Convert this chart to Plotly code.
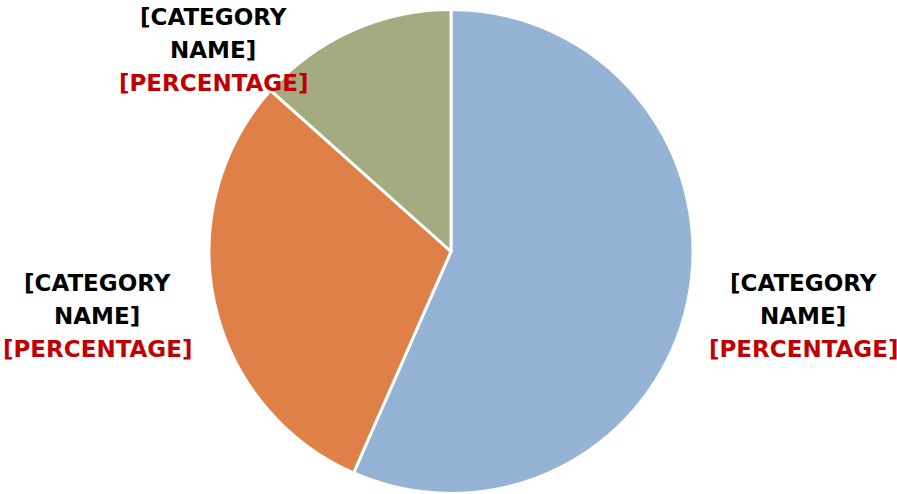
import plotly.graph_objects as go

categories = ["[CATEGORY NAME] A", "[CATEGORY NAME] B", "[CATEGORY NAME] C"]
values = [56.6, 30.0, 13.4]
colors = ["#95B3D5", "#DE8048", "#A5AB81"]
name_labels = [["[CATEGORY", "NAME]"], ["[CATEGORY", "NAME]"], ["[CATEGORY", "NAME]"]]
pct_labels = ["[PERCENTAGE]", "[PERCENTAGE]", "[PERCENTAGE]"]

W, H = 897, 494
cx, cy, r = 451, 251.5, 242

fig = go.Figure(go.Pie(
    labels=categories,
    values=values,
    sort=False,
    direction="clockwise",
    rotation=0,
    textinfo="none",
    hoverinfo="label+percent",
    marker=dict(colors=colors, line=dict(color="white", width=3)),
    domain=dict(x=[(cx - r) / W, (cx + r) / W], y=[1 - (cy + r) / H, 1 - (cy - r) / H]),
    showlegend=False,
))

label_pos = [(803, 316), (97, 316), (213, 50)]
line_gap = 33
for (x, y), nm, pc in zip(label_pos, name_labels, pct_labels):
    lines = [(t, "#000000") for t in nm] + [(pc, "#C00000")]
    n = len(lines)
    for i, (t, col) in enumerate(lines):
        yy = y + (i - (n - 1) / 2) * line_gap
        fig.add_annotation(
            x=x / W, y=1 - yy / H, xref="paper", yref="paper",
            text=f"<b>{t}</b>",
            showarrow=False, align="center", xanchor="center", yanchor="middle",
            font=dict(family="DejaVu Sans", size=23, color=col),
        )

fig.update_layout(
    width=W, height=H,
    margin=dict(l=0, r=0, t=0, b=0),
    paper_bgcolor="white", plot_bgcolor="white",
)

fig.write_html("out.html", post_script="document.body.style.margin='0';",
               config={"displayModeBar": False})
